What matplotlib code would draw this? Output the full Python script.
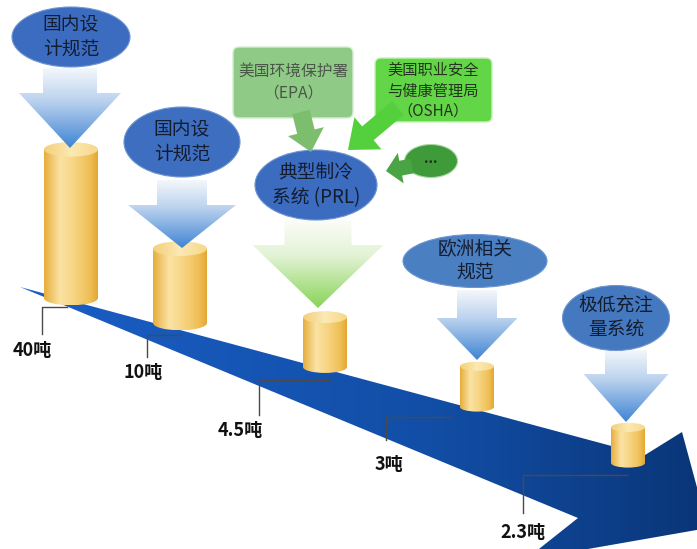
import numpy as np
import matplotlib
matplotlib.use('Agg')
import matplotlib.pyplot as plt
from matplotlib.patches import Polygon, Ellipse, FancyBboxPatch, FancyArrow, PathPatch
from matplotlib.path import Path
from matplotlib.colors import to_rgb

plt.rcParams['font.family'] = ['Noto Sans CJK SC', 'DejaVu Sans']

# refrigerant charge limits (tons) and the standard behind each
charges = [40, 10, 4.5, 3, 2.3]
charge_labels = ['40吨', '10吨', '4.5吨', '3吨', '2.3吨']
sources = ['国内设\n计规范', '国内设\n计规范', '典型制冷\n系统 (PRL)', '欧洲相关\n规范', '极低充注\n量系统']
agencies = ['美国环境保护署\n（EPA）', '美国职业安全\n与健康管理局\n（OSHA）', '...']

# layout (pixel space, y downwards)
cyl_x = [71, 180, 325, 477, 628]
cyl_w = [54, 54, 44, 34, 34]
cyl_bottom = [298, 323, 367, 407, 463]
px_per_sqrt_ton = 23.5

ell_xy = [(71, 37), (182, 142), (316, 185), (475, 261), (616, 318)]
ell_wh = [(118, 60), (116, 70), (122, 70), (144, 53), (107, 65)]
ell_col = ['#3b6cc0', '#3d6ec0', '#3b6cc0', '#4a7fc2', '#4579bf']

# down arrows: cx, top, neck, tip, shaft width, head width
down_arrows = [(70, 68, 93, 148, 54, 102), (182, 180, 205, 248, 50, 108),
               (318, 220, 245, 308, 67, 131), (477, 290, 318, 360, 40, 81),
               (626, 350, 374, 422, 42, 85)]

# leader lines: corner x, corner y, horizontal end x, vertical end y, label pos
leaders = [(42, 307, 67, 334, (32, 351)), (147, 335, 180, 357, (143, 373)),
           (259, 380, 330, 415, (240, 431)), (386, 417, 452, 440, (389, 465)),
           (523, 475, 627, 513, (523, 532))]

fig = plt.figure(figsize=(6.97, 5.49), dpi=100)
ax = fig.add_axes([0, 0, 1, 1])
W, H = 697, 549


def grad_fill(verts_or_patch, stops, vertical=True, z=1):
    if isinstance(verts_or_patch, (list, np.ndarray)):
        patch = Polygon(verts_or_patch, closed=True, fc='none', ec='none')
    else:
        patch = verts_or_patch
    ax.add_patch(patch)
    ext = patch.get_path().transformed(patch.get_patch_transform()).get_extents()
    n = 256
    t = np.linspace(0, 1, n)
    pos = [s[0] for s in stops]
    cols = np.array([to_rgb(s[1]) for s in stops])
    img = np.stack([np.interp(t, pos, cols[:, k]) for k in range(3)], axis=1)
    img = img[:, None, :] if vertical else img[None, :, :]
    im = ax.imshow(img, extent=(ext.x0, ext.x1, ext.y1, ext.y0), origin='upper',
                   aspect='auto', zorder=z, interpolation='bilinear')
    im.set_clip_path(patch)
    return im


# big trend arrow
big = [(20, 287), (645, 455), (682, 432), (708, 528), (525, 560), (578, 518)]
grad_fill(big, [(0, '#1a5ec6'), (0.6, '#124ea6'), (1, '#0a3577')], vertical=False, z=1)

# leader lines and charge labels
for (cx, cy, hx, vy, (tx, ty)), lab in zip(leaders, charge_labels):
    ax.plot([hx, cx, cx], [cy, cy, vy], color='#4a4a4a', lw=1, zorder=2)
    ax.text(tx, ty, lab, ha='center', va='center', fontsize=13, fontweight='bold',
            color='#111111', zorder=6)

# cylinders, body height grows with sqrt of the charge
for x, w, yb, v in zip(cyl_x, cyl_w, cyl_bottom, charges):
    h = px_per_sqrt_ton * np.sqrt(v)
    eh = w * 0.27
    yt = yb - h
    body = Path.make_compound_path(
        Path([(x - w / 2, yt), (x + w / 2, yt), (x + w / 2, yb), (x - w / 2, yb), (x - w / 2, yt)]),
        Ellipse((x, yb), w, eh).get_patch_transform().transform_path(Path.unit_circle()))
    bp = PathPatch(body, fc='none', ec='none')
    grad_fill(bp, [(0, '#e6ad3c'), (0.3, '#fbe3a4'), (0.55, '#f7d584'), (0.85, '#efbf55'), (1, '#e3a733')],
              vertical=False, z=3)
    top = Ellipse((x, yt), w, eh, fc='none', ec='none')
    grad_fill(top, [(0, '#f3cf7a'), (0.5, '#fce9b4'), (1, '#f5d889')], vertical=False, z=3.1)

# gradient down arrows
for i, (cx, yt, yn, ytip, sw, hw) in enumerate(down_arrows):
    pts = [(cx - sw / 2, yt), (cx + sw / 2, yt), (cx + sw / 2, yn), (cx + hw / 2, yn),
           (cx, ytip), (cx - hw / 2, yn), (cx - sw / 2, yn)]
    if i == 2:
        stops = [(0, '#fbfdf8'), (0.4, '#e3f3d6'), (1, '#88d356')]
    else:
        stops = [(0, '#f4f7fc'), (0.4, '#bcd3ee'), (1, '#3f84d4')]
    grad_fill(pts, stops, vertical=True, z=4)

# source ellipses
for (ex, ey), (ew, eh), c, s in zip(ell_xy, ell_wh, ell_col, sources):
    ax.add_patch(Ellipse((ex, ey), ew, eh, fc=c, ec='#6f95d0', lw=0.8, zorder=5))
    ax.text(ex, ey, s, ha='center', va='center', fontsize=13.5, color='#141c30',
            fontweight='medium', linespacing=1.25, zorder=6)

# agencies feeding the PRL system
ax.add_patch(FancyBboxPatch((236, 50), 114, 65, boxstyle='round,pad=3,rounding_size=6',
                            fc='#8fca86', ec='#d8ecd4', lw=1, zorder=5))
ax.text(293, 82, agencies[0], ha='center', va='center', fontsize=11.3, color='#4a5648',
        linespacing=1.4, zorder=6)
ax.add_patch(FancyBboxPatch((378, 61), 111, 58, boxstyle='round,pad=3,rounding_size=6',
                            fc='#62d646', ec='#c9f0bd', lw=1, zorder=5))
ax.text(433, 91, agencies[1], ha='center', va='center', fontsize=11, color='#26331f',
        linespacing=1.25, zorder=6)
ax.add_patch(Ellipse((431, 161), 53, 33, fc='#3f9a3a', ec='#a8d8a0', lw=0.8, zorder=5))
ax.text(431, 159, agencies[2], ha='center', va='center', fontsize=10, color='#1a2a16',
        fontweight='bold', zorder=6)

ax.add_patch(FancyArrow(301, 112, 10, 40, width=18, head_width=37, head_length=21,
                        length_includes_head=True, fc='#7dbe6e', ec='none', zorder=5.5))
ax.add_patch(FancyArrow(398, 108, -50, 42, width=18, head_width=42, head_length=26,
                        length_includes_head=True, fc='#55d03d', ec='none', zorder=5.5))
ax.add_patch(FancyArrow(412, 166, -26, 5, width=15, head_width=31, head_length=15,
                        length_includes_head=True, fc='#4aa444', ec='none', zorder=5.5))

ax.set_xlim(0, W)
ax.set_ylim(H, 0)
ax.axis('off')
fig.savefig('out.png', dpi=100)
